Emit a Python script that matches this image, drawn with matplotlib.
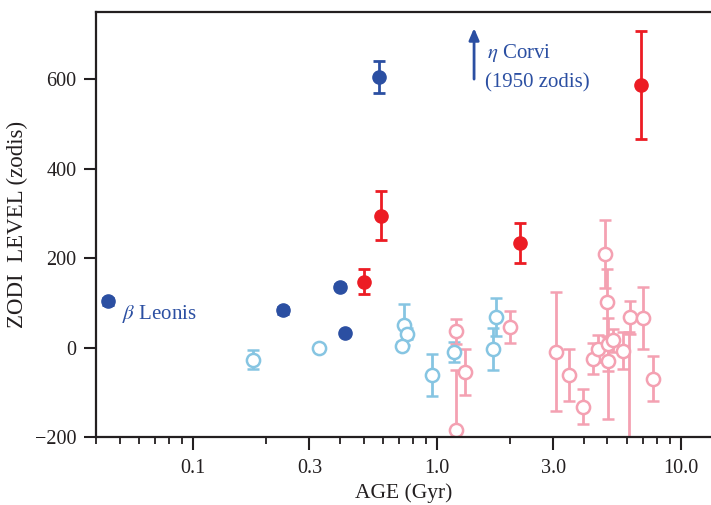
import matplotlib
matplotlib.use("Agg")
import matplotlib.pyplot as plt
import numpy as np

# ---- data ----
dark_age = [0.045, 0.234, 0.40, 0.42, 0.58]
dark_zodi = [103, 83, 136, 33, 605]
dark_err = [8, 8, 6, 5, 36]

red_age = [0.50, 0.59, 2.19, 6.85]
red_zodi = [147, 295, 233, 587]
red_err = [28, 55, 45, 120]

lblue_age = [0.176, 0.33, 0.733, 0.755, 0.717, 0.951, 1.174, 1.745, 1.70]
lblue_zodi = [-27, 0, 51, 31, 4, -61, -10, 68, -3]
lblue_err = [22, 0, 46, 12, 8, 47, 22, 43, 47]

pink_age = [1.20, 1.20, 1.30, 1.99, 3.09, 3.48, 3.98, 4.37, 4.58, 4.88,
            4.96, 5.01, 5.01, 5.28, 5.77, 6.14, 6.18, 6.97, 7.70]
pink_zodi = [36, -185, -55, 46, -9, -61, -132, -25, -3, 209,
             101, 7, -31, 16, -7, -250, 68, 66, -70]
pink_err_lo = [27, 134, 52, 36, 133, 58, 40, 35, 30, 76,
               75, 59, 128, 26, 42, 284, 37, 70, 50]
pink_err_hi = [27, 134, 52, 36, 133, 58, 40, 35, 30, 76,
               75, 59, 55, 26, 42, 284, 37, 70, 50]

xticks = [0.1, 0.3, 1.0, 3.0, 10.0]
xtick_labels = ["0.1", "0.3", "1.0", "3.0", "10.0"]
yticks = [-200, 0, 200, 400, 600]

DBLUE = "#2b4fa2"
RED = "#ec1c24"
LBLUE = "#86c5e2"
PINK = "#f4a1b2"

plt.rcParams['font.family'] = ['Liberation Serif', 'DejaVu Serif']
plt.rcParams['mathtext.fontset'] = 'stix'

fig = plt.figure(figsize=(7.11, 5.05), dpi=100)
ax = fig.add_axes([96/711, 1-437/505, 1-96/711, (437-12)/505])

ekw = dict(elinewidth=2.0, capthick=2.0, capsize=4.5, linestyle='none')

ax.errorbar(lblue_age, lblue_zodi, yerr=lblue_err, fmt='o', color=LBLUE,
            mfc='white', mec=LBLUE, mew=1.8, ms=9.5, **ekw)
ax.errorbar(pink_age, pink_zodi, yerr=[pink_err_lo, pink_err_hi], fmt='o',
            color=PINK, mfc='white', mec=PINK, mew=1.8, ms=9.5, **ekw)
ax.errorbar(dark_age, dark_zodi, yerr=dark_err, fmt='o', color=DBLUE,
            mfc=DBLUE, mec=DBLUE, ms=9.5, **ekw)
ax.errorbar(red_age, red_zodi, yerr=red_err, fmt='o', color=RED,
            mfc=RED, mec=RED, ms=9.5, **ekw)

ax.set_xscale('log')
ax.set_xlim(0.04, 13.3)
ax.set_ylim(-200, 750)
ax.set_xticks(xticks)
ax.set_xticklabels(xtick_labels)
ax.xaxis.set_minor_locator(matplotlib.ticker.LogLocator(base=10, subs=np.arange(2, 10)))
ax.xaxis.set_minor_formatter(matplotlib.ticker.NullFormatter())
ax.set_yticks(yticks)

ax.spines['right'].set_visible(False)
for s in ['left', 'top', 'bottom']:
    ax.spines[s].set_linewidth(1.6)
    ax.spines[s].set_color('#231f20')

ax.tick_params(axis='both', which='major', direction='out', length=9, width=1.5,
               labelsize=14.5, color='#231f20', labelcolor='#231f20', pad=5)
ax.tick_params(axis='x', which='major', pad=6.5)
ax.tick_params(axis='x', which='minor', direction='out', length=5, width=1.3,
               color='#231f20')
ax.tick_params(axis='y', which='minor', left=False)

ax.set_xlabel('AGE (Gyr)', fontsize=15.5, color='#231f20', labelpad=4)
ax.set_ylabel('ZODI  LEVEL (zodis)', fontsize=16.5, color='#231f20', labelpad=5)

# annotations
ax.text(0.0512, 76, r'$\beta$ Leonis', fontsize=15, color=DBLUE, va='center', ha='left')
ax.annotate('', xy=(1.42, 714), xytext=(1.42, 600),
            arrowprops=dict(arrowstyle='-|>,head_width=0.3,head_length=0.7',
                            color=DBLUE, lw=2, shrinkA=0, shrinkB=0))
ax.text(1.60, 659, r'$\eta$ Corvi', fontsize=15, color=DBLUE, va='center', ha='left')
ax.text(1.58, 592, '(1950 zodis)', fontsize=15, color=DBLUE, va='center', ha='left')

fig.savefig('out.png', dpi=100)
